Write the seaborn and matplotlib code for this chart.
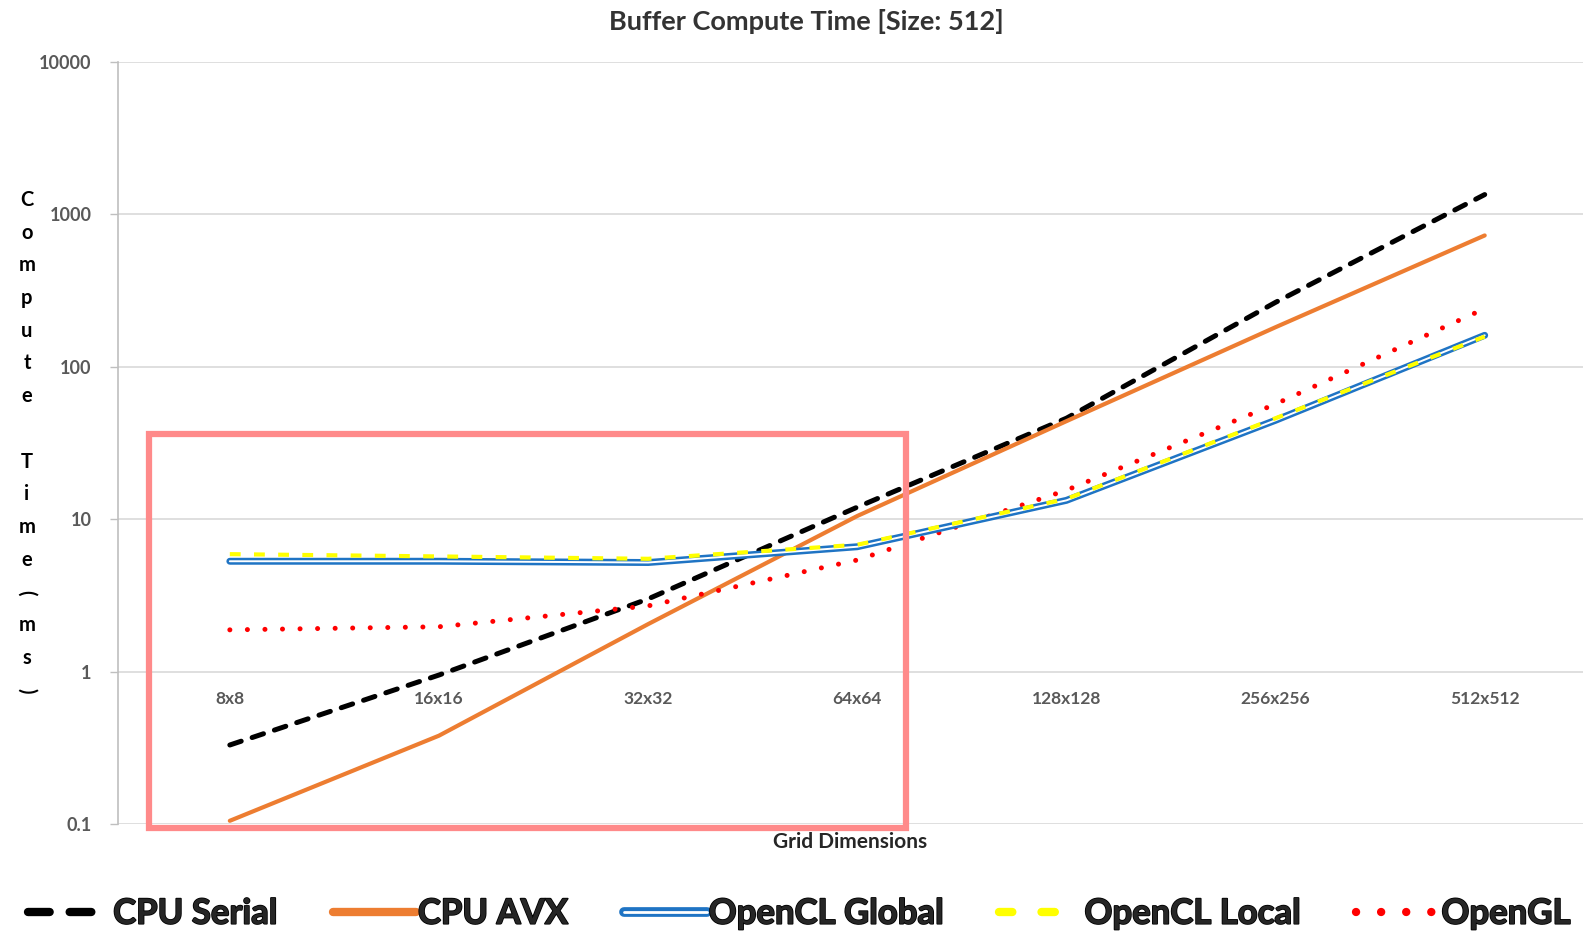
import matplotlib
matplotlib.use("Agg")
import matplotlib.pyplot as plt
import matplotlib.patheffects as pe
import seaborn as sns
from matplotlib.lines import Line2D
from matplotlib.patches import Rectangle
from matplotlib.legend_handler import HandlerTuple

# data (ms, log scale)
grid_sizes = ["8x8", "16x16", "32x32", "64x64", "128x128", "256x256", "512x512"]
cpu_serial = [0.33, 0.95, 3.0, 12.0, 46, 265, 1350]
cpu_avx = [0.105, 0.38, 2.05, 10.5, 44, 182, 728]
opencl_global = [5.3, 5.3, 5.2, 6.6, 13.3, 44.6, 161]
opencl_local = [5.9, 5.7, 5.5, 6.8, 13.6, 46, 158]
opengl = [1.88, 1.97, 2.7, 5.4, 15.5, 57, 241]
y_ticks = [0.1, 1, 10, 100, 1000, 10000]
y_ticklabels = ["0.1", "1", "10", "100", "1000", "10000"]
series_names = ["CPU Serial", "CPU AVX", "OpenCL Global", "OpenCL Local", "OpenGL"]

sns.set_style("white")
plt.rcParams["font.family"] = ["Lato", "DejaVu Sans"]

fig = plt.figure(figsize=(15.83, 9.33), dpi=100)
ax = fig.add_axes([0.0745, 0.1168, 0.9255, 0.8167])

x = list(range(len(grid_sizes)))
sns.lineplot(x=x, y=cpu_serial, ax=ax, color="black", linewidth=3.6,
             linestyle=(0, (2.4, 2.3)), dash_capstyle="round", zorder=3)
sns.lineplot(x=x, y=cpu_avx, ax=ax, color="#ED7D31", linewidth=3.0,
             solid_capstyle="round", zorder=3)
sns.lineplot(x=x, y=opencl_global, ax=ax, color="#1F74C4", linewidth=5.0,
             solid_capstyle="round", solid_joinstyle="round", zorder=4)
sns.lineplot(x=x, y=opencl_global, ax=ax, color="white", linewidth=1.4,
             solid_capstyle="round", zorder=4)
sns.lineplot(x=x, y=opencl_local, ax=ax, color="#FFFF00", linewidth=3.0,
             linestyle=(0, (2.6, 3.2)), dash_capstyle="butt", zorder=5)
sns.lineplot(x=x, y=opengl, ax=ax, color="#FF0000", linewidth=3.6,
             linestyle=(0, (0.01, 3.5)), dash_capstyle="round", zorder=3)

ax.set_yscale("log")
ax.set_ylim(0.1, 10000)
ax.set_xlim(-0.535, 6.47)
ax.set_yticks(y_ticks)
ax.set_yticklabels(y_ticklabels)
ax.yaxis.set_minor_locator(matplotlib.ticker.NullLocator())
ax.tick_params(axis="y", which="major", length=6, width=1, color="#BFBFBF",
               pad=13, labelsize=13, labelcolor="#595959", left=True)
for t in ax.get_yticklabels():
    t.set_fontweight("bold")

# category labels sit under the line at 1 ms
ax.set_xticks(x)
ax.set_xticklabels(grid_sizes)
ax.spines["bottom"].set_position(("data", 1))
ax.spines["bottom"].set_visible(False)
ax.tick_params(axis="x", length=0, pad=14, labelsize=12.5, labelcolor="#595959")
for t in ax.get_xticklabels():
    t.set_fontweight("bold")

ax.grid(axis="y", color="#D9D9D9", linewidth=1.2)
ax.grid(axis="x", visible=False)
for s in ["top", "right"]:
    ax.spines[s].set_visible(False)
ax.spines["left"].set_color("#BFBFBF")
ax.spines["left"].set_linewidth(1.2)

ax.set_xlabel("Grid Dimensions", fontsize=15, fontweight="bold", color="#262626")
ax.xaxis.set_label_coords(0.5, -0.01)

fig.text(806 / 1583, 1 - 22 / 933, "Buffer Compute Time [Size: 512]", ha="center",
         va="center", fontsize=19.5, fontweight="bold", color="#333333")

# stacked y-axis title
ylabel_chars = list("Compute Time(ms)")
for i, ch in enumerate(ylabel_chars):
    ypix = 200 + i * 32.7
    rot = -90 if ch in "()" else 0
    fig.text(27 / 1583, 1 - ypix / 933, ch, ha="center", va="center",
             fontsize=14.5, fontweight="bold", color="black", rotation=rot)

# highlight box
fig.patches.append(Rectangle((149 / 1583, 1 - 828 / 933), (906 - 149) / 1583,
                             (828 - 434) / 933, transform=fig.transFigure,
                             fill=False, edgecolor="#FF8A8A", linewidth=4.5, zorder=10))

# legend
h_serial = Line2D([], [], color="black", linewidth=6, linestyle=(0, (2.6, 2.4)),
                  dash_capstyle="round")
h_avx = Line2D([], [], color="#ED7D31", linewidth=6, solid_capstyle="round")
h_glob = (Line2D([], [], color="#1F74C4", linewidth=7, solid_capstyle="round"),
          Line2D([], [], color="white", linewidth=2, solid_capstyle="round"))
h_local = Line2D([], [], color="#FFFF00", linewidth=6, linestyle=(0, (1.6, 3.5)),
                 dash_capstyle="round")
h_gl = Line2D([], [], color="#FF0000", linewidth=6, linestyle=(0, (0.01, 3.0)),
              dash_capstyle="round")
leg = fig.legend([h_serial, h_avx, h_glob, h_local, h_gl], series_names,
                 loc="lower center", bbox_to_anchor=(0.505, -0.03), ncol=5, frameon=False,
                 fontsize=25, handlelength=2.4, handletextpad=0.05, columnspacing=1.6,
                 handler_map={tuple: HandlerTuple(ndivide=1)})
for t in leg.get_texts():
    t.set_fontweight("bold")
    t.set_path_effects([pe.withStroke(linewidth=1.2, foreground="black")])

fig.savefig("out.png", dpi=100)
